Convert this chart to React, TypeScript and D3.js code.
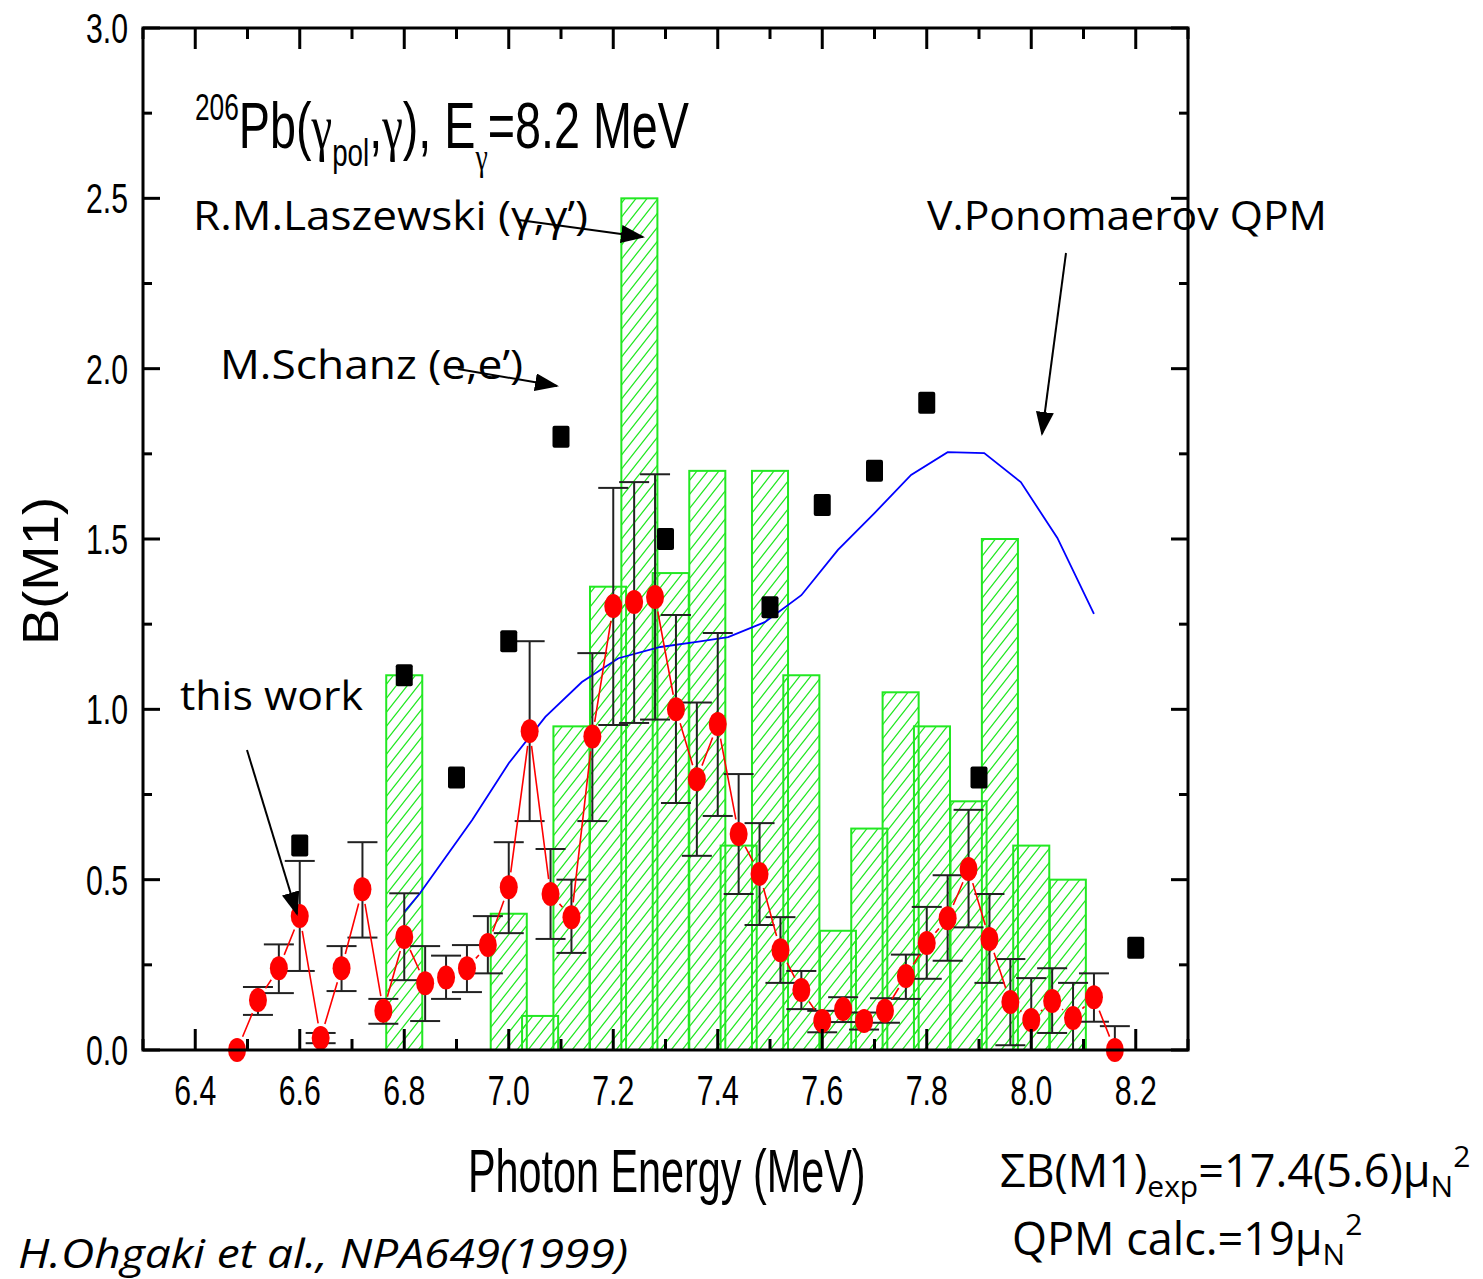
import React from "react";
import * as d3 from "d3";

const W = 1483;
const H = 1279;

// M.Schanz (e,e') - black squares
const schanzE = [6.6, 6.8, 6.9, 7.0, 7.1, 7.3, 7.5, 7.6, 7.7, 7.8, 7.9, 8.2];
const schanzB = [0.6, 1.1, 0.8, 1.2, 1.8, 1.5, 1.3, 1.6, 1.7, 1.9, 0.8, 0.3];

// R.M.Laszewski (gamma,gamma') - hatched bars
const laszE = [6.8, 7.0, 7.06, 7.12, 7.19, 7.25, 7.31, 7.38, 7.44, 7.5, 7.56, 7.63, 7.69, 7.75, 7.81, 7.88, 7.94, 8.0, 8.07];
const laszB = [1.1, 0.4, 0.1, 0.95, 1.36, 2.5, 1.4, 1.7, 0.6, 1.7, 1.1, 0.35, 0.65, 1.05, 0.95, 0.73, 1.5, 0.6, 0.5];
const laszWidth = 0.069;

// this work - red points with error bars
const workE = [6.48, 6.52, 6.56, 6.6, 6.64, 6.68, 6.72, 6.76, 6.8, 6.84, 6.88, 6.92, 6.96, 7.0, 7.04, 7.08, 7.12, 7.16, 7.2, 7.24, 7.28, 7.32, 7.36, 7.4, 7.44, 7.48, 7.52, 7.56, 7.6, 7.64, 7.68, 7.72, 7.76, 7.8, 7.84, 7.88, 7.92, 7.96, 8.0, 8.04, 8.08, 8.12, 8.16];
const workB = [0.0, 0.147, 0.24, 0.393, 0.035, 0.24, 0.472, 0.115, 0.332, 0.196, 0.213, 0.24, 0.308, 0.478, 0.936, 0.458, 0.39, 0.92, 1.303, 1.315, 1.33, 1.0, 0.795, 0.957, 0.634, 0.517, 0.293, 0.176, 0.085, 0.12, 0.085, 0.115, 0.217, 0.314, 0.387, 0.531, 0.326, 0.141, 0.088, 0.144, 0.094, 0.155, 0.0];
const workLo = [0.0, 0.103, 0.167, 0.232, 0.02, 0.173, 0.33, 0.077, 0.205, 0.085, 0.15, 0.17, 0.225, 0.343, 0.672, 0.326, 0.285, 0.672, 0.954, 0.96, 0.97, 0.725, 0.57, 0.687, 0.458, 0.367, 0.197, 0.12, 0.052, 0.082, 0.06, 0.08, 0.15, 0.209, 0.262, 0.36, 0.197, 0.014, 0.0, 0.05, 0.0, 0.083, 0.0];
const workHi = [0.0, 0.185, 0.31, 0.555, 0.05, 0.305, 0.61, 0.15, 0.46, 0.305, 0.277, 0.308, 0.393, 0.61, 1.2, 0.59, 0.5, 1.165, 1.65, 1.667, 1.69, 1.277, 1.02, 1.224, 0.81, 0.666, 0.39, 0.232, 0.115, 0.155, 0.11, 0.152, 0.28, 0.42, 0.513, 0.705, 0.458, 0.267, 0.211, 0.24, 0.197, 0.225, 0.07];

// V.Ponomaerov QPM - blue line
const qpmE = [6.8, 6.83, 6.93, 7.0, 7.07, 7.14, 7.21, 7.29, 7.36, 7.42, 7.49, 7.56, 7.63, 7.7, 7.77, 7.84, 7.91, 7.98, 8.05, 8.12];
const qpmB = [0.405, 0.46, 0.675, 0.842, 0.978, 1.08, 1.15, 1.183, 1.198, 1.212, 1.256, 1.335, 1.468, 1.576, 1.688, 1.755, 1.752, 1.667, 1.503, 1.28];

// axis ticks
const xMajor = [6.4, 6.6, 6.8, 7.0, 7.2, 7.4, 7.6, 7.8, 8.0, 8.2];
const xMinor = [6.3, 6.5, 6.7, 6.9, 7.1, 7.3, 7.5, 7.7, 7.9, 8.1, 8.3];
const yMajor = [0.0, 0.5, 1.0, 1.5, 2.0, 2.5, 3.0];
const yMinor = [0.25, 0.75, 1.25, 1.75, 2.25, 2.75];

const x = d3.scaleLinear().domain([6.3, 8.3]).range([143, 1188]);
const y = d3.scaleLinear().domain([0, 3]).range([1050, 28]);

const GREEN = "#22e822";
const calibri = "'Open Sans', 'Noto Sans', sans-serif";
const arial = "'Liberation Sans', Arial, sans-serif";
const serif = "'Liberation Serif', 'DejaVu Serif', serif";

const RX = 9;
const RY = 12;

// red connecting segments, stopping short of the markers
const redSegments = () => {
  const segs: string[] = [];
  for (let i = 0; i < workE.length - 1; i++) {
    const x1 = x(workE[i]), y1 = y(workB[i]);
    const x2 = x(workE[i + 1]), y2 = y(workB[i + 1]);
    const dx = x2 - x1, dy = y2 - y1;
    const len = Math.hypot(dx, dy);
    const c = dx / len, s = dy / len;
    const r = (RX * RY) / Math.hypot(RY * c, RX * s) + 3;
    if (len <= 2 * r) continue;
    segs.push(`M${x1 + c * r},${y1 + s * r}L${x2 - c * r},${y2 - s * r}`);
  }
  return segs.join("");
};

const qpmLine = d3
  .line<number>()
  .x((d, i) => x(qpmE[i]))
  .y((d) => y(d));

const App = () => {
  const left = x.range()[0], right = x.range()[1];
  const top = y.range()[1], bottom = y.range()[0];

  return (
    <svg width={W} height={H} style={{ position: "absolute", left: 0, top: 0, background: "#fff" }}>
      <defs>
        <pattern id="hatch" patternUnits="userSpaceOnUse" width="11" height="14">
          <path d="M-2.75,3.5L2.75,-3.5M0,14L11,0M8.25,17.5L13.75,10.5" stroke={GREEN} strokeWidth="1.3" />
        </pattern>
        <marker id="arrow" markerUnits="userSpaceOnUse" markerWidth="24" markerHeight="18" refX="22" refY="9" orient="auto">
          <path d="M0,0L24,9L0,18Z" fill="#000" />
        </marker>
      </defs>

      {/* Laszewski bars */}
      <g>
        {laszE.map((e, i) => (
          <rect
            key={"b" + i}
            x={x(e - laszWidth / 2)}
            y={y(laszB[i])}
            width={x(e + laszWidth / 2) - x(e - laszWidth / 2)}
            height={y(0) - y(laszB[i])}
            fill="url(#hatch)"
            stroke={GREEN}
            strokeWidth="2"
          />
        ))}
      </g>

      {/* QPM curve */}
      <path d={qpmLine(qpmB) || ""} fill="none" stroke="#0000ff" strokeWidth="1.8" />

      {/* error bars */}
      <g stroke="#222" strokeWidth="2">
        {workE.map((e, i) =>
          workHi[i] - workLo[i] > 0.001 ? (
            <g key={"e" + i}>
              <line x1={x(e)} x2={x(e)} y1={y(workLo[i])} y2={y(workHi[i])} />
              <line x1={x(e) - 15} x2={x(e) + 15} y1={y(workLo[i])} y2={y(workLo[i])} />
              <line x1={x(e) - 15} x2={x(e) + 15} y1={y(workHi[i])} y2={y(workHi[i])} />
            </g>
          ) : null
        )}
      </g>

      {/* red line + markers */}
      <path d={redSegments()} fill="none" stroke="#ff0000" strokeWidth="1.6" />
      {workE.map((e, i) => (
        <ellipse key={"c" + i} cx={x(e)} cy={y(workB[i])} rx={RX} ry={RY} fill="#ff0000" />
      ))}

      {/* Schanz squares */}
      {schanzE.map((e, i) => (
        <rect key={"s" + i} x={x(e) - 8.5} y={y(schanzB[i]) - 11} width={17} height={22} rx={2} fill="#000" />
      ))}

      {/* frame and ticks */}
      <rect x={left} y={top} width={right - left} height={bottom - top} fill="none" stroke="#000" strokeWidth="3" />
      <g stroke="#000" strokeWidth="3">
        {xMajor.map((v) => (
          <g key={"xm" + v}>
            <line x1={x(v)} x2={x(v)} y1={bottom} y2={bottom - 21} />
            <line x1={x(v)} x2={x(v)} y1={top} y2={top + 21} />
          </g>
        ))}
        {xMinor.map((v) => (
          <g key={"xn" + v}>
            <line x1={x(v)} x2={x(v)} y1={bottom} y2={bottom - 11} />
            <line x1={x(v)} x2={x(v)} y1={top} y2={top + 11} />
          </g>
        ))}
        {yMajor.map((v) => (
          <g key={"ym" + v}>
            <line x1={left} x2={left + 17} y1={y(v)} y2={y(v)} />
            <line x1={right} x2={right - 17} y1={y(v)} y2={y(v)} />
          </g>
        ))}
        {yMinor.map((v) => (
          <g key={"yn" + v}>
            <line x1={left} x2={left + 9} y1={y(v)} y2={y(v)} />
            <line x1={right} x2={right - 9} y1={y(v)} y2={y(v)} />
          </g>
        ))}
      </g>

      {/* tick labels */}
      <g fontFamily={arial} fontSize="42" fill="#000">
        {xMajor.map((v) => (
          <text key={"xl" + v} transform={`translate(${x(v)},${bottom + 55}) scale(0.72,1)`} textAnchor="middle">
            {v.toFixed(1)}
          </text>
        ))}
        {yMajor.map((v) => (
          <text key={"yl" + v} transform={`translate(128,${y(v) + 15}) scale(0.72,1)`} textAnchor="end">
            {v.toFixed(1)}
          </text>
        ))}
      </g>

      {/* axis titles */}
      <text
        transform="translate(58,571) rotate(-90)"
        textAnchor="middle"
        fontFamily={arial}
        fontSize="50"
        textLength="148"
        lengthAdjust="spacingAndGlyphs"
      >
        B(M1)
      </text>
      <text transform="translate(468,1192) scale(0.667,1)" fontFamily={arial} fontSize="62">
        Photon Energy (MeV)
      </text>

      {/* plot title */}
      <g transform="translate(195,148) scale(0.73,1)">
        <text fontFamily={arial} fontSize="64" fill="#000">
          <tspan fontSize="36" dy="-28">206</tspan>
          <tspan dy="28">Pb(</tspan>
          <tspan fontFamily={serif}>γ</tspan>
          <tspan fontSize="38" dy="18">pol</tspan>
          <tspan dy="-18">,</tspan>
          <tspan fontFamily={serif}>γ</tspan>
          <tspan>), E</tspan>
          <tspan fontSize="38" dy="22" fontFamily={serif}>γ</tspan>
          <tspan dy="-22">=8.2 MeV</tspan>
        </text>
      </g>

      {/* annotations */}
      <g fontFamily={calibri} fontSize="40" fill="#000">
        <text x="193" y="230" textLength="395" lengthAdjust="spacingAndGlyphs">R.M.Laszewski (γ,γ’)</text>
        <text x="220" y="379" textLength="303" lengthAdjust="spacingAndGlyphs">M.Schanz (e,e’)</text>
        <text x="927" y="230" textLength="400" lengthAdjust="spacingAndGlyphs">V.Ponomaerov QPM</text>
        <text x="180" y="710" textLength="183" lengthAdjust="spacingAndGlyphs">this work</text>
      </g>
      <g stroke="#000" strokeWidth="2">
        <line x1="519" y1="220" x2="643" y2="237" markerEnd="url(#arrow)" />
        <line x1="458" y1="369" x2="557" y2="386" markerEnd="url(#arrow)" />
        <line x1="1066" y1="253" x2="1042" y2="434" markerEnd="url(#arrow)" />
        <line x1="247" y1="750" x2="297" y2="914" markerEnd="url(#arrow)" />
      </g>

      {/* sums and reference */}
      <g fontFamily={calibri} fontSize="45" fill="#000">
        <text x="1000" y="1187">
          ΣB(M1)<tspan fontSize="30" dy="10">exp</tspan>
          <tspan dy="-10">=17.4(5.6)μ</tspan>
          <tspan fontSize="30" dy="10">N</tspan>
          <tspan fontSize="30" dy="-30">2</tspan>
        </text>
        <text x="1012" y="1255">
          QPM calc.=19μ<tspan fontSize="30" dy="10">N</tspan>
          <tspan fontSize="30" dy="-30">2</tspan>
        </text>
      </g>
      <text x="18" y="1268" fontFamily={calibri} fontSize="40" fontStyle="italic" textLength="610" lengthAdjust="spacingAndGlyphs">
        H.Ohgaki et al., NPA649(1999)
      </text>
    </svg>
  );
};

export default App;
